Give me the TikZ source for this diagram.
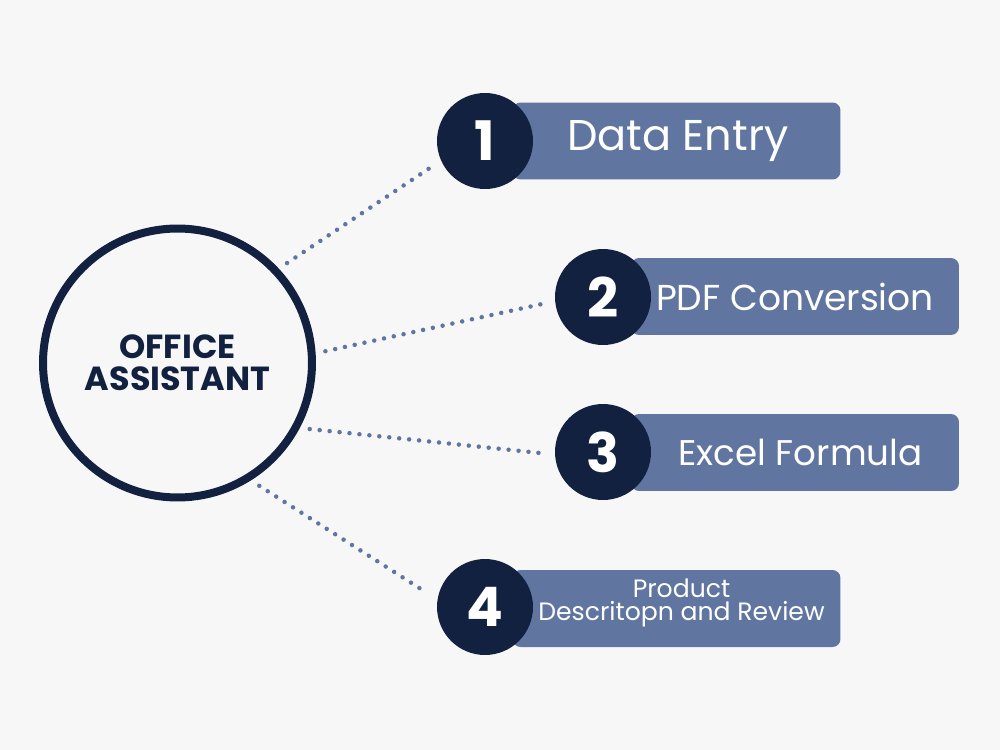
\documentclass[tikz,border=0pt]{standalone}
\usepackage{fontspec}
\setmainfont{Poppins}
\usetikzlibrary{positioning}
\definecolor{navy}{RGB}{18,33,64}
\definecolor{slate}{RGB}{96,118,160}
\definecolor{paper}{RGB}{247,247,247}

\begin{document}
\begin{tikzpicture}[x=0.02cm,y=-0.02cm,
  hub/.style={circle,draw=navy,line width=0.16cm,fill=paper,minimum size=5.38cm,inner sep=0pt,
    text=navy,align=center,font=\bfseries\fontsize{19}{18.3}\selectfont},
  num/.style={circle,fill=navy,minimum size=1.92cm,inner sep=0pt,text=white,
    font=\bfseries\fontsize{31}{31}\selectfont},
  task/.style={rectangle,rounded corners=0.16cm,fill=slate,minimum width=6.56cm,minimum height=1.54cm,
    inner sep=0pt,text=white,align=center},
  link/.style={draw=slate,line width=0.09cm,line cap=round,dash pattern=on 0pt off 0.2cm,
    shorten <=0.2cm,shorten >=0.26cm}]
\fill[paper] (0,0) rectangle (1000,750);
% boxes first, so the numbers sit on top
\node[task,font=\fontsize{24.5}{28}\selectfont] (entry) at (676.5,141) {\hspace*{0.05cm}Data Entry};
\node[task,font=\fontsize{20.5}{26}\selectfont] (pdf) at (795,296.5) {PDF Conversion};
\node[task,font=\fontsize{20.3}{26}\selectfont] (excel) at (795,452.5) {\hspace*{0.22cm}Excel Formula};
\node[task,font=\fontsize{14.3}{13}\selectfont,text depth=10pt] (review) at (676.5,608.5) {\hspace*{0.2cm}Product\\\hspace*{0.2cm}Descritopn and Review};
\node[num] (n1) at (485,141) {1};
\node[num] (n2) at (603,297) {2};
\node[num] (n3) at (603,452) {3};
\node[num] (n4) at (485,607) {4};
\node[hub] (hub) at (177.5,363) {OFFICE\\ASSISTANT};
% dotted spokes
\draw[link] (hub.43) -- (n1.204);
\draw[link] (hub.4) -- (n2.185);
\draw[link] (hub.-28) -- (n3.183);
\draw[link] (hub.-58) -- (n4.171);
\end{tikzpicture}
\end{document}
